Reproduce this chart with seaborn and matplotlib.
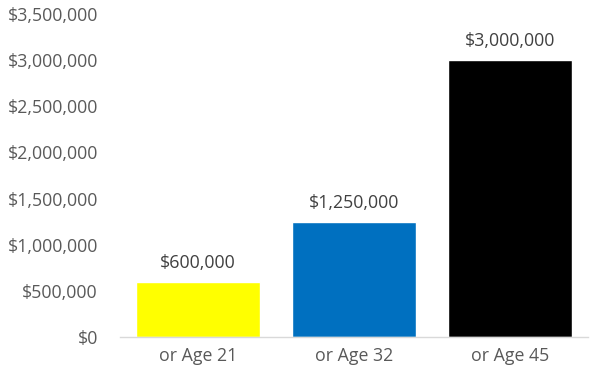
import matplotlib
matplotlib.use("Agg")
import matplotlib.pyplot as plt
import seaborn as sns
import pandas as pd
from matplotlib.ticker import FuncFormatter

categories = ["or Age 21", "or Age 32", "or Age 45"]
values = [600000, 1250000, 3000000]
colors = ["#FFFF00", "#0070C0", "#000000"]

sns.set_style("white")
plt.rcParams['font.family'] = ['Open Sans', 'DejaVu Sans']

df = pd.DataFrame({"cat": categories, "val": values})
fig = plt.figure(figsize=(5.98, 3.83), dpi=100)
ax = fig.add_axes([120/598, 1-337/383, (588-120)/598, (337-14)/383])
sns.barplot(data=df, x="cat", y="val", hue="cat", palette=colors, width=0.8,
            saturation=1, legend=False, ax=ax)
ax.set_ylim(0, 3500000)
ax.set_yticks(range(0, 3500001, 500000))
ax.yaxis.set_major_formatter(FuncFormatter(lambda v, p: f"${v:,.0f}"))
ax.set_xlabel("")
ax.set_ylabel("")
for s in ["top", "right", "left"]:
    ax.spines[s].set_visible(False)
ax.spines["bottom"].set_color("#D9D9D9")
ax.spines["bottom"].set_linewidth(1)
ax.tick_params(axis="both", length=0, labelsize=12.8, labelcolor="#595959")
ax.tick_params(axis="y", pad=16)
ax.tick_params(axis="x", pad=7)
for p, v in zip(ax.patches, values):
    ax.annotate(f"${v:,.0f}", (p.get_x() + p.get_width()/2, p.get_height()),
                xytext=(0, 7), textcoords="offset points", ha="center", va="bottom",
                fontsize=12.8, color="#404040")
fig.savefig("out.png", dpi=100)
